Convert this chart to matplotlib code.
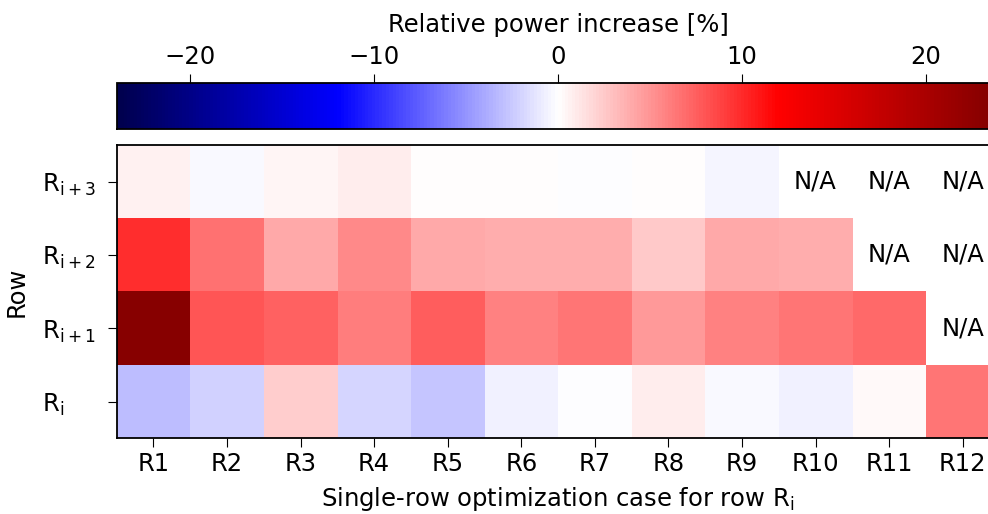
import numpy as np
import matplotlib
matplotlib.use("Agg")
import matplotlib.pyplot as plt

# relative power increase [%], rows R_i .. R_i+3 (bottom to top), cases R1..R12
cases = ["R1", "R2", "R3", "R4", "R5", "R6", "R7", "R8", "R9", "R10", "R11", "R12"]
row_labels = [r"$\mathrm{R_i}$", r"$\mathrm{R_{i+1}}$", r"$\mathrm{R_{i+2}}$", r"$\mathrm{R_{i+3}}$"]

row_i = [-3.1, -2.1, 2.3, -1.9, -2.7, -0.7, -0.1, 0.9, -0.3, -0.6, 0.2, 6.4]
row_i1 = [23.2, 8.0, 7.4, 6.0, 7.6, 5.9, 6.4, 4.7, 5.9, 6.4, 7.0, np.nan]
row_i2 = [9.9, 6.7, 4.0, 5.6, 4.1, 3.8, 3.8, 2.6, 4.1, 3.8, np.nan, np.nan]
row_i3 = [0.7, -0.2, 0.5, 0.9, 0.1, 0.1, -0.1, 0.0, -0.4, np.nan, np.nan, np.nan]

data = np.array([row_i, row_i1, row_i2, row_i3])

plt.rcParams['font.size'] = 17.5

fig = plt.figure(figsize=(9.88, 5.14), dpi=100)
ax = fig.add_axes([0.1181, 0.1473, 0.8935, 0.5706])
cax = fig.add_axes([0.1181, 0.749, 0.8935, 0.0889])

im = ax.imshow(data, cmap='seismic', vmin=-24, vmax=24, aspect='auto', origin='lower')

# N/A labels where no value exists
for r in range(data.shape[0]):
    for c in range(data.shape[1]):
        if np.isnan(data[r, c]):
            ax.text(c, r, "N/A", ha='center', va='center')

ax.set_xticks(range(len(cases)))
ax.set_xticklabels(cases)
ax.set_yticks(range(len(row_labels)))
ax.set_yticklabels(row_labels, ha='left')
ax.tick_params(axis='y', pad=47, length=6.5)
ax.tick_params(axis='x', length=6.5)
ax.set_xlabel(r"Single-row optimization case for row $\mathrm{R_i}$", labelpad=6)
ax.set_ylabel("Row")
ax.yaxis.set_label_coords(-0.1, 0.5)
for s in ax.spines.values():
    s.set_linewidth(1.3)

cb = fig.colorbar(im, cax=cax, orientation='horizontal')
cb.set_ticks([-20, -10, 0, 10, 20])
cax.xaxis.set_ticks_position('top')
cax.xaxis.set_label_position('top')
cb.set_label("Relative power increase [%]", labelpad=10)
cax.tick_params(length=6.5)
cb.outline.set_linewidth(1.3)

plt.savefig("out.png", dpi=100)
